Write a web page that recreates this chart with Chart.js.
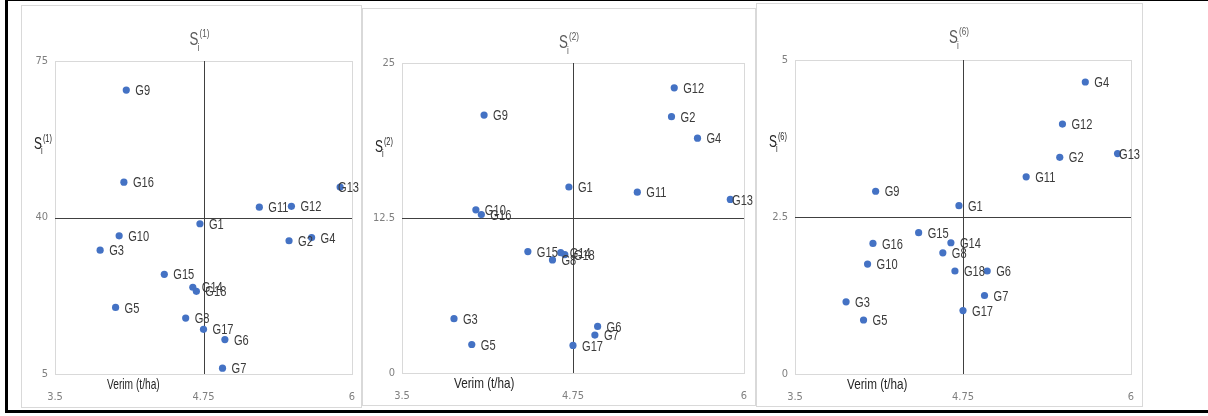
<!DOCTYPE html>
<html>
<head>
<meta charset="utf-8">
<script src="https://cdn.jsdelivr.net/npm/chart.js@4.4.1/dist/chart.umd.min.js"></script>
<style>
  body { margin: 0; width: 1208px; height: 416px; background: #fff; position: relative; overflow: hidden; }
  #frame { position: absolute; left: 5px; top: 0; width: 1203px; height: 409px;
           border-left: 3px solid #000; border-top: 1px solid #000; border-bottom: 3px solid #000; box-sizing: content-box; }
  .panel { position: absolute; border: 1px solid #d9d9d9; background: #fff; }
  .panel canvas { position: absolute; left: 0; top: 0; }
</style>
</head>
<body>
<div id="frame"></div>
<div class="panel" id="p1" style="left:21px;top:5px;width:339px;height:401px"><canvas id="c1" width="339" height="401"></canvas></div>
<div class="panel" id="p2" style="left:362px;top:8px;width:392px;height:396px"><canvas id="c2" width="392" height="396"></canvas></div>
<div class="panel" id="p3" style="left:756px;top:3px;width:385px;height:402px"><canvas id="c3" width="385" height="402"></canvas></div>
<script>
// genotypes and their mean yield (t/ha)
const genotypes = ['G1','G2','G3','G4','G5','G6','G7','G8','G9','G10','G11','G12','G13','G14','G15','G16','G17','G18'];
const yieldTha = [4.72, 5.47, 3.88, 5.66, 4.01, 4.93, 4.91, 4.60, 4.10, 4.04, 5.22, 5.49, 5.90, 4.66, 4.42, 4.08, 4.75, 4.69];

// nonparametric stability statistics
const s1 = [38.6, 34.8, 32.7, 35.5, 19.9, 12.7, 6.3, 17.5, 68.5, 35.9, 42.3, 42.5, 46.8, 24.4, 27.3, 47.9, 15.0, 23.5];
const s2 = [15.0, 20.67, 4.38, 18.94, 2.3, 3.76, 3.06, 9.12, 20.8, 13.16, 14.58, 23.0, 14.0, 9.7, 9.79, 12.78, 2.22, 9.55];
const s6 = [2.68, 3.45, 1.15, 4.65, 0.86, 1.64, 1.25, 1.93, 2.91, 1.75, 3.14, 3.98, 3.51, 2.09, 2.25, 2.08, 1.01, 1.64];

// axis ticks (middle value = crossing line)
const xTicks = [3.5, 4.75, 6];
const s1Ticks = [5, 40, 75];
const s2Ticks = [0, 12.5, 25];
const s6Ticks = [0, 2.5, 5];

const xTitle = 'Verim (t/ha)';
const FONT = "'Liberation Sans', Arial, sans-serif";
const TICK_FONT = "'DejaVu Sans Condensed', 'Liberation Sans', sans-serif";
const SQUEEZE = 0.74; // text in the original is narrow

// text squeezed horizontally
function narrowText(ctx, txt, x, y, sx) {
  ctx.save();
  ctx.translate(x, y);
  ctx.scale(sx, 1);
  ctx.fillText(txt, 0, 0);
  ctx.restore();
}

// draws S with subscript i and superscript (n)
function drawSymbol(ctx, x, base, sup, big, color, center) {
  const small = Math.round(big * 0.62);
  ctx.save();
  ctx.fillStyle = color;
  ctx.textBaseline = 'alphabetic';
  ctx.font = big + 'px ' + FONT;
  const wS = ctx.measureText('S').width * SQUEEZE;
  ctx.font = small + 'px ' + FONT;
  const wSup = ctx.measureText('(' + sup + ')').width * SQUEEZE;
  const left = center ? x - (wS + 1 + wSup) / 2 : x;
  ctx.font = big + 'px ' + FONT;
  narrowText(ctx, 'S', left, base, SQUEEZE);
  ctx.font = small + 'px ' + FONT;
  narrowText(ctx, 'i', left + wS - 1, base + small * 0.5, SQUEEZE);
  narrowText(ctx, '(' + sup + ')', left + wS + 1, base - big * 0.42, SQUEEZE);
  ctx.restore();
}

const quadrant = {
  id: 'quadrant',
  beforeDatasetsDraw(chart, args, opts) {
    const { ctx, chartArea: a, scales: { x, y } } = chart;
    ctx.save();
    ctx.strokeStyle = '#d9d9d9';
    ctx.lineWidth = 1;
    ctx.strokeRect(a.left + 0.5, a.top + 0.5, a.width, a.height);
    const cx = Math.round(x.getPixelForValue(xTicks[1])) + 0.5;
    const cy = Math.round(y.getPixelForValue(opts.yMid)) + 0.5;
    ctx.strokeStyle = '#404040';
    ctx.beginPath();
    ctx.moveTo(cx, a.top); ctx.lineTo(cx, a.bottom);
    ctx.moveTo(a.left, cy); ctx.lineTo(a.right, cy);
    ctx.stroke();
    ctx.restore();
  },
  afterDatasetsDraw(chart, args, opts) {
    const { ctx, chartArea: a } = chart;
    ctx.save();
    ctx.font = '15px ' + FONT;
    ctx.fillStyle = '#3a3a3a';
    ctx.textBaseline = 'middle';
    chart.getDatasetMeta(0).data.forEach((pt, i) => {
      const txt = genotypes[i];
      const w = ctx.measureText(txt).width * SQUEEZE;
      let tx = pt.x + 9;
      if (tx + w > chart.width - 2) tx = chart.width - 2 - w;
      narrowText(ctx, txt, tx, pt.y + 1, SQUEEZE);
    });
    // x axis title
    ctx.font = '15px ' + FONT;
    ctx.fillStyle = '#262626';
    narrowText(ctx, xTitle, a.left + 52, a.bottom + 11, opts.titleSqueeze);
    ctx.restore();
    // chart title and y axis title
    drawSymbol(ctx, (a.left + a.right) / 2 - 4, 39, opts.sup, 18, '#595959', true);
    drawSymbol(ctx, 12, 143, opts.sup, 16, '#262626', false);
  }
};

function makeChart(id, sValues, yTicks, sup, dims) {
  const W = dims.w, H = dims.h;
  const noPad = s => { s.paddingLeft = 0; s.paddingRight = 0; s.paddingTop = 0; s.paddingBottom = 0; };
  return new Chart(document.getElementById(id), {
    type: 'scatter',
    data: {
      datasets: [{
        data: yieldTha.map((v, i) => ({ x: v, y: sValues[i] })),
        backgroundColor: '#4472c4',
        borderColor: '#4472c4',
        borderWidth: 0,
        pointRadius: 3.6
      }]
    },
    options: {
      responsive: false,
      animation: false,
      layout: { padding: { top: dims.top, right: W - dims.right, bottom: 0, left: 0 } },
      plugins: {
        legend: { display: false },
        tooltip: { enabled: false },
        quadrant: { yMid: yTicks[1], sup: sup, titleSqueeze: dims.sq }
      },
      scales: {
        x: {
          type: 'linear',
          min: xTicks[0], max: xTicks[2],
          afterBuildTicks: s => { s.ticks = xTicks.map(v => ({ value: v })); },
          afterFit: s => { s.height = H - dims.bottom; noPad(s); },
          grid: { display: false, drawTicks: false },
          border: { display: false },
          ticks: { color: '#7f7f7f', padding: 17, font: { family: TICK_FONT, size: 11 }, maxRotation: 0,
                   callback: v => String(v) }
        },
        y: {
          min: yTicks[0], max: yTicks[2],
          afterBuildTicks: s => { s.ticks = yTicks.map(v => ({ value: v })); },
          afterFit: s => { s.width = dims.left; noPad(s); },
          grid: { display: false, drawTicks: false },
          border: { display: false },
          ticks: { color: '#7f7f7f', padding: 7, font: { family: TICK_FONT, size: 11 },
                   callback: v => String(v) }
        }
      }
    },
    plugins: [quadrant]
  });
}

makeChart('c1', s1, s1Ticks, '1', { w: 339, h: 401, left: 33, right: 330, top: 55, bottom: 368, sq: 0.68 });
makeChart('c2', s2, s2Ticks, '2', { w: 392, h: 396, left: 39, right: 381, top: 54, bottom: 364, sq: 0.78 });
makeChart('c3', s6, s6Ticks, '6', { w: 385, h: 402, left: 38, right: 374, top: 56, bottom: 370, sq: 0.78 });
</script>
</body>
</html>
